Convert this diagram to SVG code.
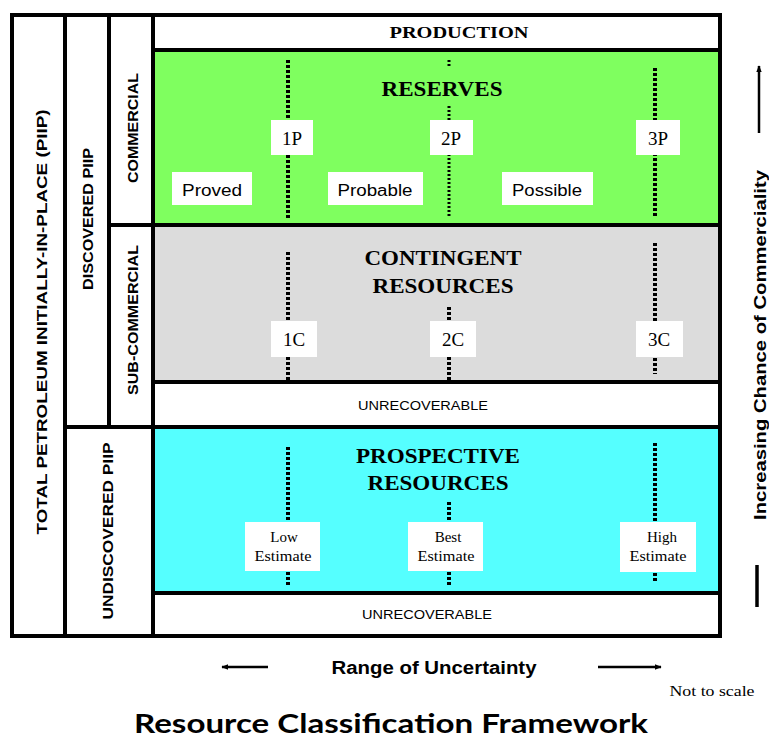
<svg xmlns="http://www.w3.org/2000/svg" width="769" height="742" viewBox="0 0 769 742">
<style>
.frame{fill:none;stroke:#000;stroke-width:4}
.sep{stroke:#000;stroke-width:4}
.dot{stroke:#000;stroke-width:4;stroke-dasharray:3,2;fill:none}
.dot2{stroke:#000;stroke-width:3;stroke-dasharray:2,2;fill:none}
.lbl{fill:#fff}
.serifB{font-family:"Liberation Serif","Times New Roman",serif;font-weight:bold;fill:#000}
.serif{font-family:"Liberation Serif","Times New Roman",serif;fill:#000}
.sans{font-family:"Liberation Sans",Arial,sans-serif;fill:#000}
.sansB{font-family:"Liberation Sans",Arial,sans-serif;font-weight:bold;fill:#000}
</style>
<defs>
<marker id="ah" viewBox="0 0 10 10" refX="9" refY="5" markerWidth="7" markerHeight="7" markerUnits="userSpaceOnUse" orient="auto"><path d="M0,1 L10,5 L0,9 z" fill="#000"/></marker>
</defs>
<rect width="769" height="742" fill="#fff"/>
<g id="production"><rect x="153" y="15" width="567" height="35" fill="#fff"/><text class="serifB" x="459" y="38" font-size="16" text-anchor="middle" textLength="139" lengthAdjust="spacingAndGlyphs">PRODUCTION</text></g>
<g id="reserves"><rect x="153" y="50" width="567" height="175" fill="#7FFF5F"/><text class="serifB" x="442" y="96" font-size="21" text-anchor="middle" textLength="121" lengthAdjust="spacingAndGlyphs">RESERVES</text></g>
<g id="contingent"><rect x="153" y="225" width="567" height="157" fill="#DCDCDC"/><text class="serifB" x="443" y="265" font-size="20" text-anchor="middle" textLength="157" lengthAdjust="spacingAndGlyphs">CONTINGENT</text><text class="serifB" x="443" y="293" font-size="20" text-anchor="middle" textLength="141" lengthAdjust="spacingAndGlyphs">RESOURCES</text></g>
<g id="unrecoverable1"><rect x="153" y="382" width="567" height="45" fill="#fff"/><text class="sans" x="423" y="410" font-size="13" text-anchor="middle" textLength="130" lengthAdjust="spacingAndGlyphs">UNRECOVERABLE</text></g>
<g id="prospective"><rect x="153" y="427" width="567" height="166" fill="#55FFFF"/><text class="serifB" x="438" y="463" font-size="20" text-anchor="middle" textLength="164" lengthAdjust="spacingAndGlyphs">PROSPECTIVE</text><text class="serifB" x="438" y="490" font-size="20" text-anchor="middle" textLength="141" lengthAdjust="spacingAndGlyphs">RESOURCES</text></g>
<g id="unrecoverable2"><rect x="153" y="593" width="567" height="43" fill="#fff"/><text class="sans" x="427" y="619" font-size="13" text-anchor="middle" textLength="130" lengthAdjust="spacingAndGlyphs">UNRECOVERABLE</text></g>
<g id="connectors">
<line class="dot" x1="288" y1="60" x2="288" y2="220"/>
<line class="dot2" x1="449" y1="60" x2="449" y2="68"/>
<line class="dot2" x1="449" y1="106" x2="449" y2="218"/>
<line class="dot" x1="655" y1="68" x2="655" y2="218"/>
<line class="dot" x1="288" y1="252" x2="288" y2="381"/>
<line class="dot" x1="449" y1="307" x2="449" y2="381"/>
<line class="dot" x1="655" y1="243" x2="655" y2="374"/>
<line class="dot" x1="288" y1="447" x2="288" y2="585"/>
<line class="dot" x1="449" y1="502" x2="449" y2="585"/>
<line class="dot" x1="655" y1="443" x2="655" y2="582"/>
<line x1="759" y1="133" x2="759" y2="66" stroke="#000" stroke-width="2.5" marker-end="url(#ah)"/>
<line x1="757" y1="565" x2="757" y2="607" stroke="#000" stroke-width="3.5"/>
<line x1="268" y1="667" x2="222" y2="667" stroke="#000" stroke-width="2.5" marker-end="url(#ah)"/>
<line x1="598" y1="667" x2="661" y2="667" stroke="#000" stroke-width="2.5" marker-end="url(#ah)"/>
</g>
<g id="frame">
<rect class="frame" x="12" y="15" width="708" height="621"/>
<line class="sep" x1="65" y1="15" x2="65" y2="636"/>
<line class="sep" x1="109" y1="15" x2="109" y2="427"/>
<line class="sep" x1="153" y1="15" x2="153" y2="636"/>
<line class="sep" x1="153" y1="50" x2="720" y2="50"/>
<line class="sep" x1="109" y1="225" x2="720" y2="225"/>
<line class="sep" x1="153" y1="382" x2="720" y2="382"/>
<line class="sep" x1="65" y1="427" x2="720" y2="427"/>
<line class="sep" x1="153" y1="593" x2="720" y2="593"/>
</g>
<g id="label-1P"><rect class="lbl" x="271" y="120" width="42" height="35"/><text class="serif" x="292" y="145" font-size="19" text-anchor="middle">1P</text></g>
<g id="label-2P"><rect class="lbl" x="430" y="120" width="43" height="35"/><text class="serif" x="451" y="145" font-size="19" text-anchor="middle">2P</text></g>
<g id="label-3P"><rect class="lbl" x="636" y="120" width="44" height="35"/><text class="serif" x="658" y="145" font-size="19" text-anchor="middle">3P</text></g>
<g id="label-proved"><rect class="lbl" x="172" y="172" width="80" height="33"/><text class="sans" x="212" y="196" font-size="16" text-anchor="middle" textLength="60" lengthAdjust="spacingAndGlyphs">Proved</text></g>
<g id="label-probable"><rect class="lbl" x="328" y="172" width="95" height="33"/><text class="sans" x="375" y="196" font-size="16" text-anchor="middle" textLength="75" lengthAdjust="spacingAndGlyphs">Probable</text></g>
<g id="label-possible"><rect class="lbl" x="502" y="172" width="91" height="33"/><text class="sans" x="547" y="196" font-size="16" text-anchor="middle" textLength="70" lengthAdjust="spacingAndGlyphs">Possible</text></g>
<g id="label-1C"><rect class="lbl" x="271" y="321" width="46" height="36"/><text class="serif" x="294" y="346" font-size="19" text-anchor="middle">1C</text></g>
<g id="label-2C"><rect class="lbl" x="430" y="321" width="46" height="36"/><text class="serif" x="453" y="346" font-size="19" text-anchor="middle">2C</text></g>
<g id="label-3C"><rect class="lbl" x="636" y="321" width="47" height="36"/><text class="serif" x="659" y="346" font-size="19" text-anchor="middle">3C</text></g>
<g id="label-low"><rect class="lbl" x="245" y="522" width="75" height="49"/><text class="serif" x="284" y="542" font-size="15" text-anchor="middle">Low</text><text class="serif" x="283" y="561" font-size="15" text-anchor="middle" textLength="57" lengthAdjust="spacingAndGlyphs">Estimate</text></g>
<g id="label-best"><rect class="lbl" x="408" y="522" width="75" height="49"/><text class="serif" x="448" y="542" font-size="15" text-anchor="middle">Best</text><text class="serif" x="446" y="561" font-size="15" text-anchor="middle" textLength="57" lengthAdjust="spacingAndGlyphs">Estimate</text></g>
<g id="label-high"><rect class="lbl" x="620" y="522" width="76" height="50"/><text class="serif" x="662" y="542" font-size="15" text-anchor="middle">High</text><text class="serif" x="658" y="561" font-size="15" text-anchor="middle" textLength="57" lengthAdjust="spacingAndGlyphs">Estimate</text></g>
<g id="col-total"><text class="sansB" transform="translate(47,322) rotate(-90)" font-size="15" text-anchor="middle" textLength="425" lengthAdjust="spacingAndGlyphs">TOTAL PETROLEUM INITIALLY-IN-PLACE  (PIIP)</text></g>
<g id="col-discovered"><text class="sansB" transform="translate(93,219) rotate(-90)" font-size="14" text-anchor="middle" textLength="142" lengthAdjust="spacingAndGlyphs">DISCOVERED PIIP</text></g>
<g id="col-commercial"><text class="sansB" transform="translate(138,128) rotate(-90)" font-size="14" text-anchor="middle" textLength="110" lengthAdjust="spacingAndGlyphs">COMMERCIAL</text></g>
<g id="col-subcommercial"><text class="sansB" transform="translate(138,320) rotate(-90)" font-size="14" text-anchor="middle" textLength="150" lengthAdjust="spacingAndGlyphs">SUB-COMMERCIAL</text></g>
<g id="col-undiscovered"><text class="sansB" transform="translate(113,531) rotate(-90)" font-size="15" text-anchor="middle" textLength="177" lengthAdjust="spacingAndGlyphs">UNDISCOVERED PIIP</text></g>
<g id="axis-commerciality"><text class="sansB" transform="translate(766,345) rotate(-90)" font-size="16" text-anchor="middle" textLength="350" lengthAdjust="spacingAndGlyphs">Increasing Chance of Commerciality</text></g>
<g id="axis-uncertainty"><text class="sansB" x="434" y="674" font-size="18" text-anchor="middle" textLength="205" lengthAdjust="spacingAndGlyphs">Range of Uncertainty</text></g>
<g id="note"><text class="serif" x="712" y="696" font-size="14" text-anchor="middle" textLength="85" lengthAdjust="spacingAndGlyphs">Not to scale</text></g>
<g id="title"><text class="sansB" x="391" y="733" font-size="27" text-anchor="middle" textLength="514" lengthAdjust="spacingAndGlyphs" style="font-family:'Lato','Liberation Sans',sans-serif">Resource Classification Framework</text></g>
</svg>
